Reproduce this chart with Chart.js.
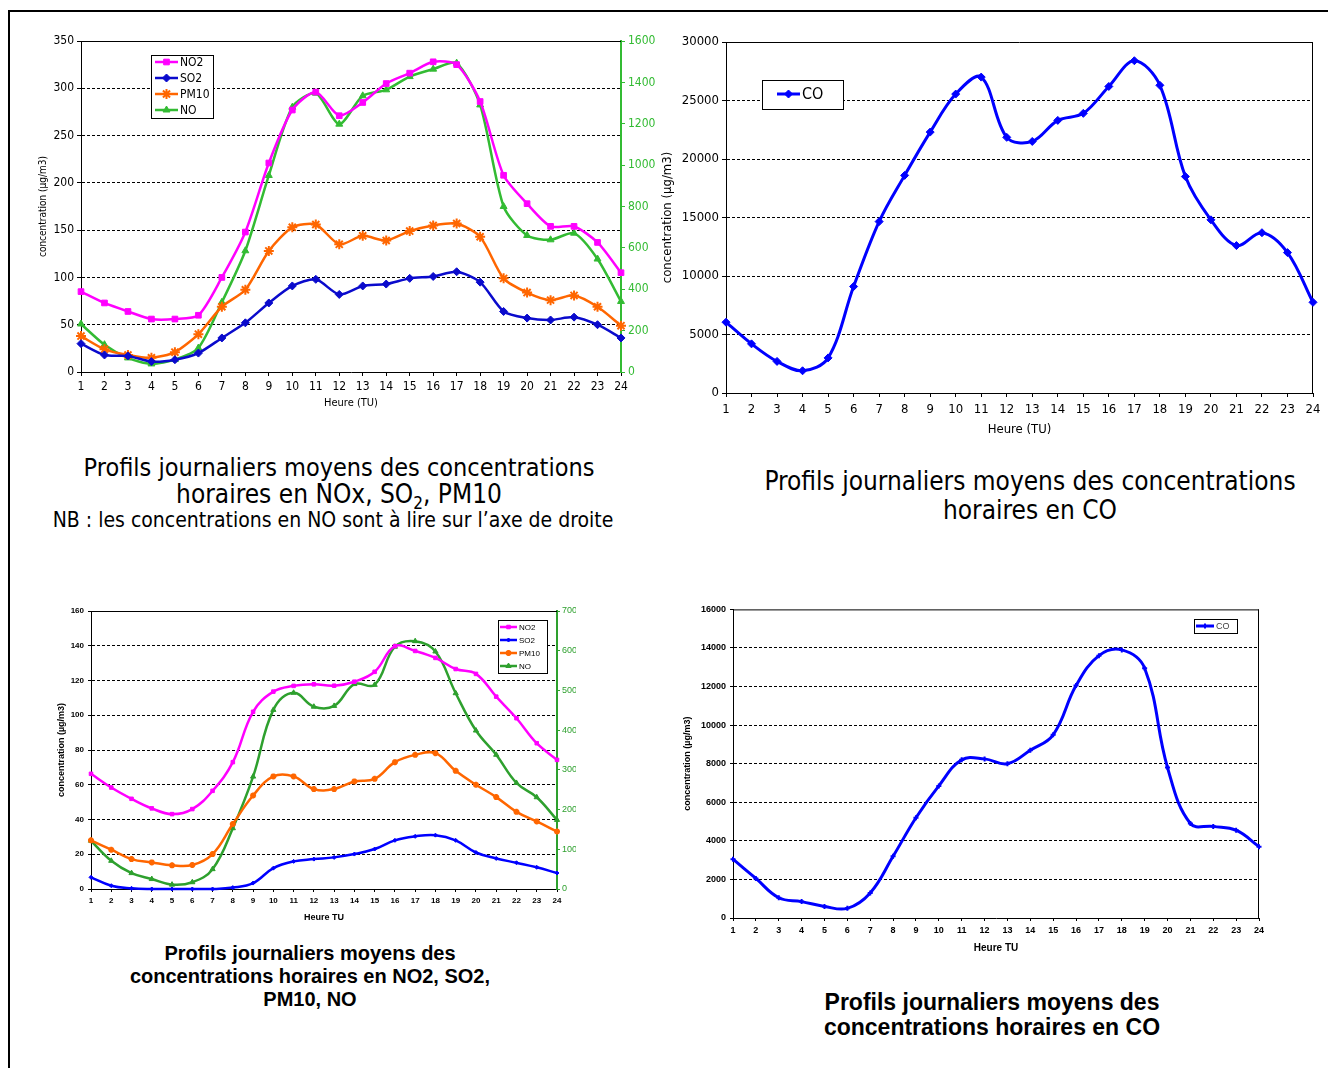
<!DOCTYPE html>
<html lang="fr">
<head>
<meta charset="utf-8">
<title>Profils journaliers moyens</title>
<script src="https://cdn.jsdelivr.net/npm/chart.js@4.4.1/dist/chart.umd.min.js"></script>
<style>
  html, body { margin: 0; padding: 0; background: #fff; }
  body { width: 1328px; height: 1068px; position: relative; overflow: hidden; }
  .frame-top { position: absolute; left: 8px; top: 10px; width: 1320px; height: 2px; background: #000; }
  .frame-left { position: absolute; left: 8px; top: 10px; width: 2px; height: 1058px; background: #000; }
  canvas { position: absolute; }
  .t { position: absolute; text-align: center; white-space: nowrap; color: #000; }
  .fut { font-family: "Liberation Sans Narrow", "DejaVu Sans Condensed", sans-serif; }
  .ari { font-family: "Liberation Sans", Arial, sans-serif; font-weight: bold; }
</style>
</head>
<body>
<div class="frame-top"></div>
<div class="frame-left"></div>

<canvas id="c1" width="650" height="395" style="left:20px;top:25px"></canvas>
<canvas id="c2" width="678" height="420" style="left:650px;top:25px"></canvas>
<canvas id="c3" width="551" height="330" style="left:25px;top:600px"></canvas>
<canvas id="c4" width="630" height="360" style="left:660px;top:600px"></canvas>

<div class="t fut" style="left:39px;top:455px;width:600px;font-size:25px;line-height:26px">Profils journaliers moyens des concentrations</div>
<div class="t fut" style="left:39px;top:481px;width:600px;font-size:26px;line-height:26px">horaires en NOx, SO<sub style="font-size:17px;line-height:0">2</sub>, PM10</div>
<div class="t fut" style="left:33px;top:510px;width:600px;font-size:21px;line-height:21px">NB : les concentrations en NO sont à lire sur l’axe de droite</div>

<div class="t fut" style="left:730px;top:468px;width:600px;font-size:26px;line-height:27px">Profils journaliers moyens des concentrations</div>
<div class="t fut" style="left:730px;top:497px;width:600px;font-size:26px;line-height:27px">horaires en CO</div>

<div class="t ari" style="left:10px;top:943px;width:600px;font-size:20px;line-height:20px">Profils journaliers moyens des</div>
<div class="t ari" style="left:10px;top:966px;width:600px;font-size:20px;line-height:20px">concentrations horaires en NO2, SO2,</div>
<div class="t ari" style="left:10px;top:989px;width:600px;font-size:20px;line-height:20px">PM10, NO</div>

<div class="t ari" style="left:692px;top:991px;width:600px;font-size:23px;line-height:23px">Profils journaliers moyens des</div>
<div class="t ari" style="left:692px;top:1016px;width:600px;font-size:23px;line-height:23px">concentrations horaires en CO</div>

<script>
const HOURS = ['1', '2', '3', '4', '5', '6', '7', '8', '9', '10', '11', '12',
               '13', '14', '15', '16', '17', '18', '19', '20', '21', '22', '23', '24'];

// haut gauche : NO2, SO2, PM10 (axe gauche), NO (axe droite)
const TOP_NO2  = [85, 73, 64, 56, 56, 60, 100, 148, 221, 277, 296, 271, 285, 305, 316, 328, 325, 286, 208, 178, 154, 154, 137, 105];
const TOP_SO2  = [30, 18, 17, 11, 13, 20, 36, 52, 73, 91, 98, 82, 91, 93, 99, 101, 106, 95, 64, 57, 55, 58, 50, 36];
const TOP_PM10 = [38, 24, 18, 15, 21, 40, 69, 87, 128, 153, 156, 135, 144, 139, 149, 155, 157, 143, 99, 84, 76, 81, 69, 49];
const TOP_NO   = [232, 132, 68, 39, 60, 116, 337, 586, 950, 1280, 1348, 1198, 1335, 1364, 1428, 1464, 1493, 1291, 800, 660, 639, 671, 546, 341];

// haut droite : CO
const TOP_CO = [6050, 4200, 2700, 1900, 3000, 9100, 14650, 18600, 22300, 25550, 27000, 21850,
                21500, 23300, 23900, 26200, 28400, 26300, 18500, 14800, 12600, 13700, 12000, 7750];

// bas gauche : NO2, SO2, PM10 (axe gauche), NO (axe droite)
const BOT_NO2  = [66.3, 58.4, 51.9, 46.4, 43.1, 46, 56.5, 73, 102, 113.6, 116.9, 117.8, 117, 119.3, 125, 139.8, 137, 133, 126.6, 123.8, 110.7, 98.3, 83.9, 74.3];
const BOT_SO2  = [6.7, 1.9, 0.4, 0, 0, 0, 0, 0.8, 3.4, 12, 15.9, 17.2, 18.2, 20.1, 23, 28, 30.3, 31, 28, 21, 17.6, 15.1, 12.5, 9.2];
const BOT_PM10 = [28, 22.6, 17.2, 15.3, 13.6, 13.8, 20.1, 37.4, 53.8, 64.8, 64.8, 57.5, 57.5, 61.9, 63.4, 73, 77.2, 78.2, 68, 60, 52.9, 44.4, 38.9, 33.1];
const BOT_NO   = [121.5, 71, 40, 25, 11, 17, 50, 153, 283, 451, 494, 459, 461, 516, 514, 610, 624, 598, 493, 399, 338, 267, 231, 174];

// bas droite : CO
const BOT_CO = [3050, 2050, 1050, 850, 600, 500, 1300, 3200, 5200, 6850, 8200, 8250,
                8000, 8700, 9500, 12050, 13600, 13900, 12950, 7800, 4900, 4750, 4550, 3700];

const NARROW = '"Liberation Sans Narrow", "DejaVu Sans Condensed", sans-serif';
const ARIAL = '"Liberation Sans", Arial, sans-serif';
const NONE = 'rgba(0,0,0,0)';
const Y_TITLE = 'concentration (µg/m3)';

Chart.defaults.font.family = NARROW;
Chart.defaults.color = '#000';

// pas de séparateur de milliers sur les axes
const plain = v => String(v);

// ligne pleine en haut de la zone de tracé (et à droite si box)
const framePlugin = {
    id: 'frame',
    beforeDatasetsDraw(chart, args, opts) {
        const { ctx, chartArea: a } = chart;
        ctx.save();
        ctx.strokeStyle = '#000';
        ctx.lineWidth = 1;
        ctx.beginPath();
        ctx.moveTo(a.left, a.top + 0.5);
        ctx.lineTo(a.right, a.top + 0.5);
        if (opts.box) {
            ctx.moveTo(a.right - 0.5, a.top);
            ctx.lineTo(a.right - 0.5, a.bottom);
        }
        ctx.stroke();
        ctx.restore();
    }
};

// légende encadrée façon Excel
const legendPlugin = {
    id: 'boxLegend',
    afterDraw(chart, args, o) {
        if (!o || o.x === undefined) return;
        const ctx = chart.ctx;
        ctx.save();
        ctx.fillStyle = '#fff';
        ctx.fillRect(o.x, o.y, o.w, o.h);
        ctx.strokeStyle = '#000';
        ctx.lineWidth = 1;
        ctx.strokeRect(o.x + 0.5, o.y + 0.5, o.w, o.h);
        ctx.font = o.font;
        ctx.textBaseline = 'middle';
        ctx.textAlign = 'left';
        chart.data.datasets.forEach((ds, i) => {
            const cy = o.y + o.first + i * (o.row || 0);
            const x0 = o.x + o.pad;
            ctx.strokeStyle = ds.borderColor;
            ctx.lineWidth = ds.borderWidth;
            ctx.beginPath();
            ctx.moveTo(x0, cy);
            ctx.lineTo(x0 + o.len, cy);
            ctx.stroke();
            ctx.fillStyle = ds.pointBackgroundColor;
            ctx.lineWidth = ds.pointBorderWidth;
            Chart.helpers.drawPoint(ctx, {
                pointStyle: ds.pointStyle, rotation: 0,
                radius: ds.pointRadius, borderWidth: ds.pointBorderWidth
            }, x0 + o.len / 2, cy);
            ctx.fillStyle = o.color || '#000';
            ctx.fillText(ds.label, x0 + o.len + 2, cy + 0.5);
        });
        ctx.restore();
    }
};

function serie(label, data, color, style, radius, width, axis, tension) {
    return {
        label, data,
        borderColor: color, backgroundColor: color,
        pointBackgroundColor: color, pointBorderColor: color,
        pointStyle: style, pointRadius: radius, pointBorderWidth: style === 'star' || style === 'cross' ? 2 : 1,
        borderWidth: width, yAxisID: axis, tension, clip: false, fill: false
    };
}

function xAxis(o) {
    return {
        type: 'category', offset: false,
        afterFit: s => { s.height = o.height; },
        grid: { drawOnChartArea: false, drawTicks: true, tickLength: o.tick, tickColor: '#000', color: '#000', offset: false },
        border: { color: '#000', width: 1 },
        ticks: { autoSkip: false, maxRotation: 0, padding: o.pad, color: '#000', font: o.font },
        title: { display: true, text: o.title, color: '#000', font: o.titleFont, padding: { top: 0, bottom: o.titlePad } }
    };
}

function yAxis(o) {
    return {
        type: 'linear', position: 'left', min: o.min, max: o.max,
        afterFit: s => { s.width = o.width; },
        grid: {
            color: c => (c.tick && (c.tick.value <= o.min || c.tick.value >= o.max)) ? NONE : '#000',
            lineWidth: 1, drawTicks: true, tickLength: o.tick, tickColor: '#000'
        },
        border: { color: '#000', width: 1, dash: [3, 2] },
        ticks: { stepSize: o.step, padding: o.pad, color: '#000', font: o.font, callback: plain },
        title: { display: true, text: Y_TITLE, color: '#000', font: o.titleFont, padding: { top: o.titlePad, bottom: 0 } }
    };
}

function yRight(o) {
    return {
        type: 'linear', position: 'right', min: o.min, max: o.max,
        afterFit: s => { s.width = o.width; },
        grid: { drawOnChartArea: false, drawTicks: true, tickLength: o.tick, tickColor: o.color },
        border: { color: o.color, width: 2 },
        ticks: { stepSize: o.step, padding: o.pad, color: o.color, font: o.font, callback: plain }
    };
}

const base = (padding) => ({
    responsive: false, animation: false, devicePixelRatio: 1,
    layout: { padding }
});

// ---- haut gauche
const GREEN1 = '#33BB33';
new Chart(document.getElementById('c1'), {
    type: 'line',
    data: {
        labels: HOURS,
        datasets: [
            serie('NO2', TOP_NO2, '#FF00FF', 'rect', 4, 2.5, 'y', 0.25),
            serie('SO2', TOP_SO2, '#0A0ACC', 'rectRot', 4, 2.5, 'y', 0.25),
            serie('PM10', TOP_PM10, '#FF6600', 'star', 5, 2.5, 'y', 0.25),
            serie('NO', TOP_NO, GREEN1, 'triangle', 4, 2.5, 'y1', 0.25)
        ]
    },
    options: Object.assign(base({ top: 16, left: 0, right: 0, bottom: 0 }), {
        plugins: {
            legend: { display: false }, tooltip: { enabled: false },
            frame: { box: false },
            boxLegend: { x: 131, y: 30, w: 62, h: 63, first: 7, row: 16, pad: 4, len: 23, font: '12px ' + NARROW }
        },
        scales: {
            x: xAxis({ height: 48, tick: 4, pad: 4, font: { size: 12 }, title: 'Heure (TU)', titleFont: { size: 11 }, titlePad: 10 }),
            y: yAxis({ min: 0, max: 350, step: 50, width: 61, tick: 4, pad: 3, font: { size: 12 }, titleFont: { size: 10 }, titlePad: 17 }),
            y1: yRight({ min: 0, max: 1600, step: 200, width: 49, tick: 4, pad: 3, color: GREEN1, font: { size: 12 } })
        }
    }),
    plugins: [framePlugin, legendPlugin]
});

// ---- haut droite
new Chart(document.getElementById('c2'), {
    type: 'line',
    data: {
        labels: HOURS,
        datasets: [serie('CO', TOP_CO, '#0000FF', 'rectRot', 4, 3, 'y', 0.35)]
    },
    options: Object.assign(base({ top: 17, left: 0, right: 15, bottom: 0 }), {
        plugins: {
            legend: { display: false }, tooltip: { enabled: false },
            frame: { box: true },
            boxLegend: { x: 112, y: 55, w: 81, h: 29, first: 14, pad: 15, len: 23, font: '16px ' + NARROW }
        },
        scales: {
            x: xAxis({ height: 52, tick: 4, pad: 5, font: { size: 13 }, title: 'Heure (TU)', titleFont: { size: 13 }, titlePad: 8 }),
            y: yAxis({ min: 0, max: 30000, step: 5000, width: 76, tick: 4, pad: 3, font: { size: 13 }, titleFont: { size: 13 }, titlePad: 10 })
        }
    }),
    plugins: [framePlugin, legendPlugin]
});

// ---- bas gauche
const GREEN3 = '#2EA02E';
const small = { family: ARIAL, size: 8, weight: 'bold' };
new Chart(document.getElementById('c3'), {
    type: 'line',
    data: {
        labels: HOURS,
        datasets: [
            serie('NO2', BOT_NO2, '#FF00FF', 'rect', 2.5, 2.5, 'y', 0.4),
            serie('SO2', BOT_SO2, '#0000FF', 'rectRot', 2, 2.5, 'y', 0.4),
            serie('PM10', BOT_PM10, '#FF6600', 'star', 3, 2.5, 'y', 0.4),
            serie('NO', BOT_NO, GREEN3, 'triangle', 3, 2.5, 'y1', 0.4)
        ]
    },
    options: Object.assign(base({ top: 11, left: 0, right: 0, bottom: 0 }), {
        plugins: {
            legend: { display: false }, tooltip: { enabled: false },
            frame: { box: false },
            boxLegend: { x: 473, y: 20, w: 49, h: 53, first: 7, row: 13, pad: 2, len: 17, font: '8px ' + ARIAL }
        },
        scales: {
            x: xAxis({ height: 41, tick: 3, pad: 4, font: small, title: 'Heure TU', titleFont: { family: ARIAL, size: 9, weight: 'bold' }, titlePad: 7 }),
            y: yAxis({ min: 0, max: 160, step: 20, width: 66, tick: 3, pad: 4, font: small, titleFont: { family: ARIAL, size: 9, weight: 'bold' }, titlePad: 31 }),
            y1: yRight({ min: 0, max: 700, step: 100, width: 19, tick: 3, pad: 2, color: GREEN3, font: { family: ARIAL, size: 9 } })
        }
    }),
    plugins: [framePlugin, legendPlugin]
});

// ---- bas droite
new Chart(document.getElementById('c4'), {
    type: 'line',
    data: {
        labels: HOURS,
        datasets: [serie('CO', BOT_CO, '#0000FF', 'cross', 2.5, 3, 'y', 0.4)]
    },
    options: Object.assign(base({ top: 9, left: 0, right: 31, bottom: 0 }), {
        plugins: {
            legend: { display: false }, tooltip: { enabled: false },
            frame: { box: true },
            boxLegend: { x: 534, y: 19, w: 43, h: 14, first: 7, pad: 2, len: 18, font: '9px ' + ARIAL, color: '#444' }
        },
        scales: {
            x: xAxis({ height: 42, tick: 3, pad: 4, font: { family: ARIAL, size: 9, weight: 'bold' }, title: 'Heure TU', titleFont: { family: ARIAL, size: 10, weight: 'bold' }, titlePad: 6 }),
            y: yAxis({ min: 0, max: 16000, step: 2000, width: 73, tick: 3, pad: 4, font: { family: ARIAL, size: 9, weight: 'bold' }, titleFont: { family: ARIAL, size: 9, weight: 'bold' }, titlePad: 22 })
        }
    }),
    plugins: [framePlugin, legendPlugin]
});
</script>
</body>
</html>
